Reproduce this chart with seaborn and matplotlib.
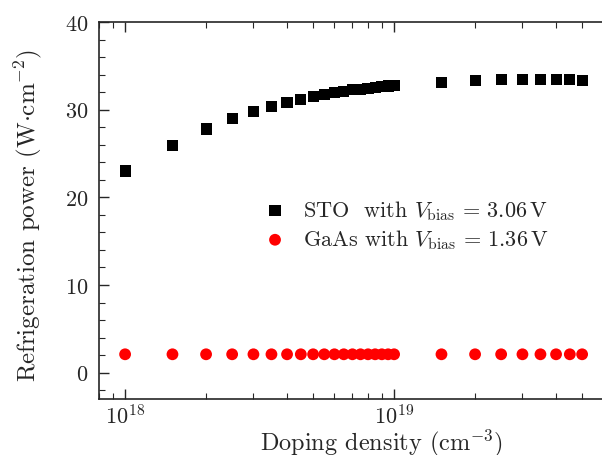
import matplotlib
matplotlib.use("Agg")
import matplotlib.pyplot as plt
import matplotlib.ticker as mticker
import numpy as np
import pandas as pd
import seaborn as sns

# doping densities (cm^-3)
doping = [1e18, 1.5e18, 2e18, 2.5e18, 3e18, 3.5e18, 4e18, 4.5e18, 5e18, 5.5e18,
          6e18, 6.5e18, 7e18, 7.5e18, 8e18, 8.5e18, 9e18, 9.5e18, 1e19,
          1.5e19, 2e19, 2.5e19, 3e19, 3.5e19, 4e19, 4.5e19, 5e19]
# refrigeration power (W/cm^2)
sto_power = [23.0, 25.9, 27.8, 29.0, 29.8, 30.4, 30.8, 31.2, 31.5, 31.75,
             31.95, 32.1, 32.25, 32.35, 32.45, 32.55, 32.65, 32.7, 32.8,
             33.1, 33.3, 33.4, 33.4, 33.4, 33.4, 33.4, 33.35]
gaas_power = [2.1] * len(doping)
x_major = [1e18, 1e19]

sto_label = r"STO  with $V_{\mathrm{bias}}\,=\,3.06\,\mathrm{V}$"
gaas_label = r"GaAs with $V_{\mathrm{bias}}\,=\,1.36\,\mathrm{V}$"

sns.set_style("ticks")
plt.rcParams['font.family'] = 'serif'
plt.rcParams['font.serif'] = ['cmr10']
plt.rcParams['mathtext.fontset'] = 'cm'
plt.rcParams['axes.unicode_minus'] = False
plt.rcParams['axes.formatter.use_mathtext'] = True

df = pd.DataFrame({'doping': doping, 'sto': sto_power, 'gaas': gaas_power})

fig = plt.figure(figsize=(6.02, 4.56), dpi=100)
# the axes run on past the right edge of the picture (up to 1e20)
ax = fig.add_axes([0.1645, 0.1228, 0.937, 0.8268])

sns.scatterplot(data=df, x='doping', y='sto', marker='s', color='black', s=64,
                edgecolor='none', label=sto_label, ax=ax)
sns.scatterplot(data=df, x='doping', y='gaas', marker='o', color='red', s=72,
                edgecolor='none', label=gaas_label, ax=ax)

ax.set_xscale('log')
ax.set_xlim(8e17, 1e20)
ax.set_ylim(-3, 40)
ax.set_xticks(x_major)
ax.yaxis.set_major_locator(mticker.MultipleLocator(10))
ax.yaxis.set_minor_locator(mticker.MultipleLocator(2))
ax.xaxis.set_minor_locator(mticker.LogLocator(base=10, subs=np.arange(2, 10)))
ax.xaxis.set_minor_formatter(mticker.NullFormatter())

ax.tick_params(which='both', direction='in', top=True, right=True, labelsize=16)
ax.tick_params(which='major', length=7, width=1)
ax.tick_params(which='minor', length=4, width=0.8)
ax.tick_params(axis='y', pad=8)
ax.tick_params(axis='x', pad=3)
for sp in ax.spines.values():
    sp.set_linewidth(1.2)

ax.set_xlabel(r"Doping density (cm$^{-3}$)", fontsize=17.5)
ax.xaxis.set_label_coords(0.5, -0.073)
ax.set_ylabel(r"Refrigeration power (W$\cdot$cm$^{-2}$)", fontsize=18)
ax.yaxis.set_label_coords(-0.097, 0.49)

ax.legend(loc='center left', bbox_to_anchor=(0.247, 0.462), frameon=False,
          fontsize=16, handletextpad=0.5, labelspacing=0.25, markerscale=1.0,
          handlelength=1.5)

fig.savefig('out.png', dpi=100)
